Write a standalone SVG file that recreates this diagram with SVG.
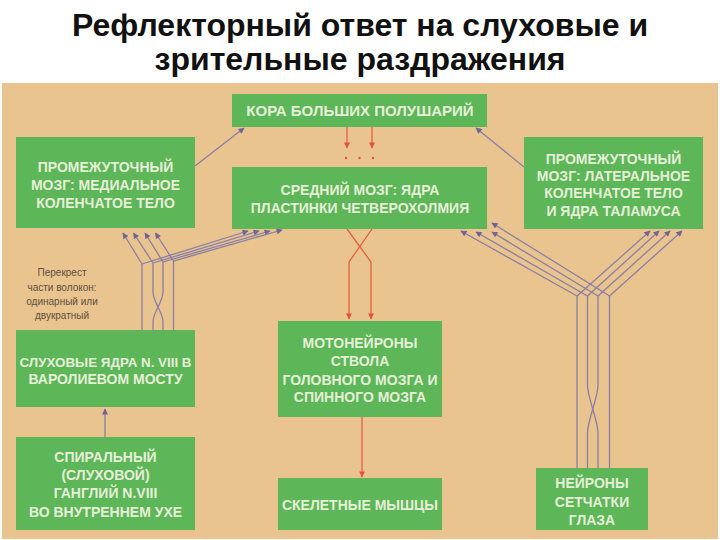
<svg xmlns="http://www.w3.org/2000/svg" width="720" height="540" viewBox="0 0 720 540">
<defs>
<style>
.title{font-family:"Liberation Sans",Arial,sans-serif;font-weight:bold;font-size:32px;fill:#111;text-anchor:middle}
.box{fill:#5db658}
.bt{font-family:"Liberation Sans",Arial,sans-serif;font-weight:bold;font-size:14px;fill:#e6efd8;text-anchor:middle}
.note{font-family:"Liberation Sans",Arial,sans-serif;font-size:10px;fill:#5e5040;text-anchor:middle}
.pu{fill:none;stroke:#8a7fa6;stroke-width:1.3}
.pa{fill:none;stroke:#8a7fa6;stroke-width:1.3;marker-end:url(#ap)}
.ra{fill:none;stroke:#e4603e;stroke-width:1.3;marker-end:url(#ar)}
</style>
<marker id="ap" viewBox="0 0 10 10" refX="9" refY="5" markerWidth="7" markerHeight="6" markerUnits="userSpaceOnUse" orient="auto">
<path d="M0,0 L10,5 L0,10 z" fill="#6f6398"/>
</marker>
<marker id="ar" viewBox="0 0 10 10" refX="9" refY="5" markerWidth="7" markerHeight="6" markerUnits="userSpaceOnUse" orient="auto">
<path d="M0,0 L10,5 L0,10 z" fill="#e0553a"/>
</marker>
</defs>
<rect x="0" y="0" width="720" height="540" fill="#ffffff"/>
<text class="title" x="360" y="36">Рефлекторный ответ на слуховые и</text>
<text class="title" x="360" y="70">зрительные раздражения</text>
<rect x="2" y="83" width="716" height="456" fill="#e9c48e"/>

<g id="connectors">
<path class="pa" d="M195,166 L244,128"/>
<path class="pa" d="M524,167 L476,128"/>
<path class="pa" d="M105,437 L105,409"/>
<path class="pu" d="M142,330 L142,264"/>
<path class="pu" d="M153,330 L153,322 C153,312 163,302 163,292 L163,262"/>
<path class="pu" d="M163,330 L163,322 C163,312 153,302 153,292 L153,263"/>
<path class="pu" d="M173.5,330 L173.5,261"/>
<path class="pa" d="M142,264 L123,233"/>
<path class="pa" d="M153,263 L133.5,233"/>
<path class="pa" d="M163,262 L145,233"/>
<path class="pa" d="M173.5,261 L155.5,233"/>
<path class="pa" d="M142,264 L248,231"/>
<path class="pa" d="M153,263 L259,231"/>
<path class="pa" d="M163,262 L270,231"/>
<path class="pa" d="M173.5,261 L282,230"/>
<path class="pu" d="M577,468 L577,296"/>
<path class="pu" d="M587.5,468 L587.5,433 C587.5,420 598,398 598,385 L598,296"/>
<path class="pu" d="M598,468 L598,433 C598,420 587.5,398 587.5,385 L587.5,296"/>
<path class="pu" d="M609.5,468 L609.5,296"/>
<path class="pa" d="M577,296 L650,231"/>
<path class="pa" d="M587.5,296 L659,231"/>
<path class="pa" d="M598,296 L670,231"/>
<path class="pa" d="M609.5,296 L682,231"/>
<path class="pa" d="M577,296 L461,231"/>
<path class="pa" d="M587.5,296 L476,232"/>
<path class="pa" d="M598,296 L492,232"/>
<path class="pa" d="M609.5,296 L492,223"/>
<path class="ra" d="M347,127 L347,148"/>
<path class="ra" d="M372,127 L372,148"/>
<circle cx="346" cy="158" r="1.2" fill="#e0553a"/>
<circle cx="359.5" cy="158" r="1.2" fill="#e0553a"/>
<circle cx="373" cy="158" r="1.2" fill="#e0553a"/>
<path class="ra" d="M347,229 L371,262 L371,319"/>
<path class="ra" d="M372,229 L349,262 L349,319"/>
<path class="ra" d="M362,417 L362,477"/>
</g>

<g id="cortex">
<rect class="box" x="232" y="94" width="255" height="33"/>
<text class="bt" x="360" y="116" style="font-size:15px">КОРА БОЛЬШИХ ПОЛУШАРИЙ</text>
</g>
<g id="medial-geniculate">
<rect class="box" x="16" y="137" width="179" height="91"/>
<text class="bt" x="105.5" y="172">ПРОМЕЖУТОЧНЫЙ</text>
<text class="bt" x="105.5" y="190">МОЗГ: МЕДИАЛЬНОЕ</text>
<text class="bt" x="105.5" y="208">КОЛЕНЧАТОЕ ТЕЛО</text>
</g>
<g id="midbrain">
<rect class="box" x="232" y="167" width="255" height="62"/>
<text class="bt" x="360" y="195">СРЕДНИЙ МОЗГ: ЯДРА</text>
<text class="bt" x="360" y="213">ПЛАСТИНКИ ЧЕТВЕРОХОЛМИЯ</text>
</g>
<g id="lateral-geniculate">
<rect class="box" x="524" y="137" width="179" height="92"/>
<text class="bt" x="613.5" y="164">ПРОМЕЖУТОЧНЫЙ</text>
<text class="bt" x="613.5" y="181">МОЗГ: ЛАТЕРАЛЬНОЕ</text>
<text class="bt" x="613.5" y="198">КОЛЕНЧАТОЕ ТЕЛО</text>
<text class="bt" x="613.5" y="216">И ЯДРА ТАЛАМУСА</text>
</g>
<g id="note">
<text class="note" x="62" y="276">Перекрест</text>
<text class="note" x="62" y="291">части волокон:</text>
<text class="note" x="62" y="305">одинарный или</text>
<text class="note" x="62" y="319">двукратный</text>
</g>
<g id="auditory-nuclei">
<rect class="box" x="16" y="330" width="179" height="77"/>
<text class="bt" x="105.5" y="367" style="font-size:13.5px" textLength="172" lengthAdjust="spacingAndGlyphs">СЛУХОВЫЕ ЯДРА N. VIII В</text>
<text class="bt" x="105.5" y="384">ВАРОЛИЕВОМ МОСТУ</text>
</g>
<g id="spiral-ganglion">
<rect class="box" x="16" y="437" width="179" height="93"/>
<text class="bt" x="105.5" y="462">СПИРАЛЬНЫЙ</text>
<text class="bt" x="105.5" y="480">(СЛУХОВОЙ)</text>
<text class="bt" x="105.5" y="498">ГАНГЛИЙ N.VIII</text>
<text class="bt" x="105.5" y="517">ВО ВНУТРЕННЕМ УХЕ</text>
</g>
<g id="motoneurons">
<rect class="box" x="278" y="321" width="164" height="96"/>
<text class="bt" x="360" y="348">МОТОНЕЙРОНЫ</text>
<text class="bt" x="360" y="366">СТВОЛА</text>
<text class="bt" x="360" y="385">ГОЛОВНОГО МОЗГА И</text>
<text class="bt" x="360" y="402">СПИННОГО МОЗГА</text>
</g>
<g id="muscles">
<rect class="box" x="278" y="478" width="164" height="52"/>
<text class="bt" x="360" y="510">СКЕЛЕТНЫЕ МЫШЦЫ</text>
</g>
<g id="retina">
<rect class="box" x="536" y="468" width="112" height="62"/>
<text class="bt" x="592" y="488">НЕЙРОНЫ</text>
<text class="bt" x="592" y="507">СЕТЧАТКИ</text>
<text class="bt" x="592" y="525">ГЛАЗА</text>
</g>
</svg>
